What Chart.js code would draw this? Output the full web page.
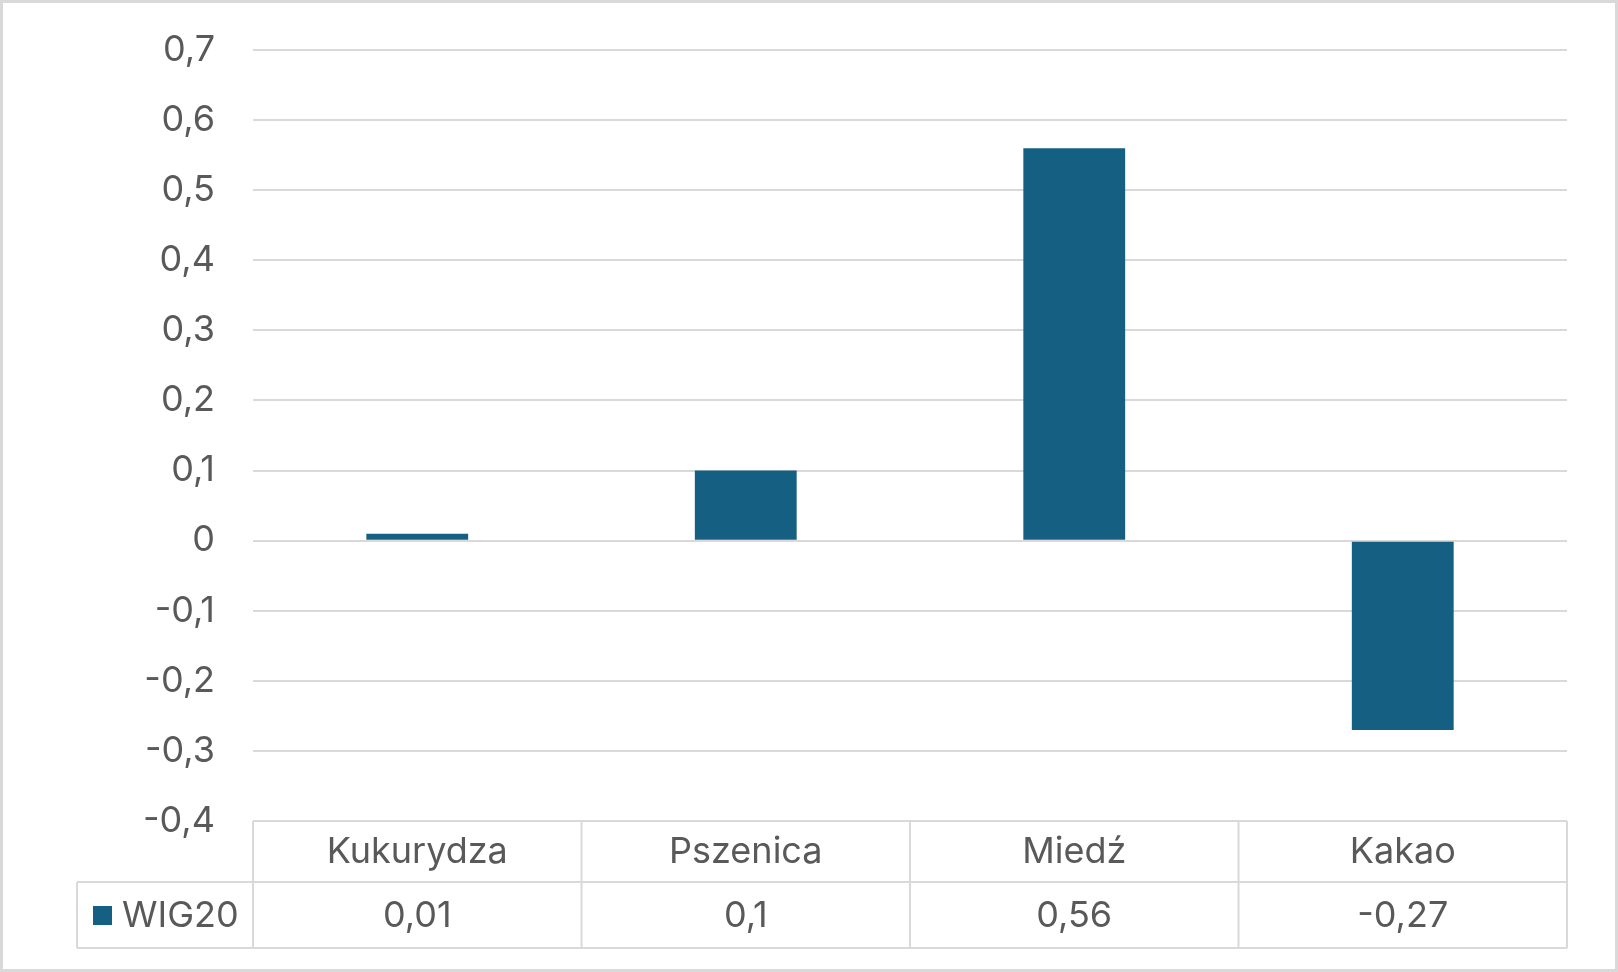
<!DOCTYPE html>
<html>
<head>
<meta charset="utf-8">
<script src="https://cdn.jsdelivr.net/npm/chart.js@4.4.1/dist/chart.umd.min.js"></script>
<style>
  html, body { margin: 0; padding: 0; background: #ffffff; }
  #chart { display: block; }
</style>
</head>
<body>
<canvas id="chart" width="1618" height="972"></canvas>
<script>
// Data
const categories = ['Kukurydza', 'Pszenica', 'Miedź', 'Kakao'];
const seriesName = 'WIG20';
const wig20Values = [0.01, 0.1, 0.56, -0.27];
const yMin = -0.4;
const yMax = 0.7;
const yStep = 0.1;

const barColor = '#156082';
const textColor = '#595959';
const lineColor = '#d9d9d9';
const fontFamily = 'Inter, "Open Sans", sans-serif';
const fontSize = 36;

function plFormat(v) {
    return String(v).replace('.', ',');
}

// white background + outer frame
const framePlugin = {
    id: 'frame',
    beforeDraw(chart) {
        const ctx = chart.ctx;
        ctx.save();
        ctx.fillStyle = '#ffffff';
        ctx.fillRect(0, 0, chart.width, chart.height);
        ctx.restore();
    },
    afterDraw(chart) {
        const ctx = chart.ctx;
        ctx.save();
        ctx.strokeStyle = lineColor;
        ctx.lineWidth = 3;
        ctx.strokeRect(1.5, 1.5, chart.width - 3, chart.height - 3);
        ctx.restore();
    }
};

// Excel-style data table under the plot
const dataTablePlugin = {
    id: 'dataTable',
    afterDraw(chart) {
        const ctx = chart.ctx;
        const area = chart.chartArea;
        const x = chart.scales.x;
        const n = categories.length;
        const top = area.bottom;
        const mid = top + 61;
        const bottom = top + 127;
        const legendLeft = 77;

        const centers = categories.map((c, i) => x.getPixelForValue(i));
        const bounds = [area.left];
        for (let i = 1; i < n; i++) bounds.push((centers[i - 1] + centers[i]) / 2);
        bounds.push(area.right);

        ctx.save();
        ctx.strokeStyle = lineColor;
        ctx.lineWidth = 2;
        const line = (x1, y1, x2, y2) => {
            ctx.beginPath();
            ctx.moveTo(x1, y1);
            ctx.lineTo(x2, y2);
            ctx.stroke();
        };
        line(area.left, top, area.right, top);
        line(legendLeft, mid, area.right, mid);
        line(legendLeft, bottom, area.right, bottom);
        line(legendLeft, mid, legendLeft, bottom);
        bounds.forEach(b => line(b, top, b, bottom));

        ctx.fillStyle = textColor;
        ctx.font = fontSize + 'px ' + fontFamily;
        ctx.textAlign = 'center';
        ctx.textBaseline = 'middle';
        categories.forEach((c, i) => {
            ctx.fillText(c, centers[i], (top + mid) / 2 + 1);
            ctx.fillText(plFormat(wig20Values[i]), centers[i], (mid + bottom) / 2 + 1);
        });

        // legend key in the table
        ctx.fillStyle = barColor;
        ctx.fillRect(legendLeft + 16, (mid + bottom) / 2 - 9, 19, 19);
        ctx.fillStyle = textColor;
        ctx.textAlign = 'left';
        ctx.fillText(seriesName, legendLeft + 45, (mid + bottom) / 2 + 1);
        ctx.restore();
    }
};

new Chart(document.getElementById('chart'), {
    type: 'bar',
    data: {
        labels: categories,
        datasets: [{
            label: seriesName,
            data: wig20Values,
            backgroundColor: barColor,
            borderWidth: 0,
            barPercentage: 0.31,
            categoryPercentage: 1.0
        }]
    },
    options: {
        responsive: false,
        devicePixelRatio: 1,
        animation: false,
        layout: { padding: { left: 0, top: 50, right: 51, bottom: 151 } },
        plugins: {
            legend: { display: false },
            tooltip: { enabled: false }
        },
        scales: {
            x: { display: false },
            y: {
                min: yMin,
                max: yMax,
                border: { display: false },
                grid: { color: lineColor, lineWidth: 2, drawTicks: false },
                ticks: {
                    stepSize: yStep,
                    padding: 38,
                    color: textColor,
                    font: { family: fontFamily, size: fontSize },
                    callback: v => plFormat(Math.round(v * 10) / 10)
                },
                afterFit(scale) {
                    scale.width = 253;
                    scale.paddingTop = 0;
                    scale.paddingBottom = 0;
                }
            }
        }
    },
    plugins: [framePlugin, dataTablePlugin]
});
</script>
</body>
</html>
